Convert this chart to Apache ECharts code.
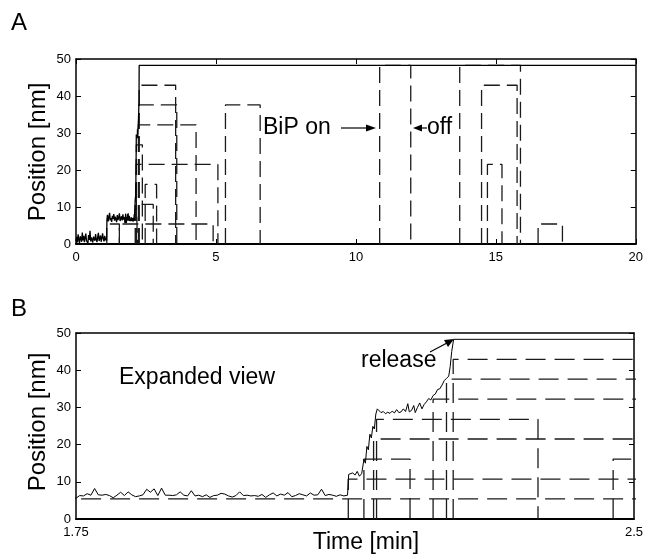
<!DOCTYPE html>
<html>
<head>
<meta charset="utf-8">
<script src="https://cdn.jsdelivr.net/npm/echarts@6/dist/echarts.min.js"></script>
<style>
html,body{margin:0;padding:0;background:#fff;}
#c{width:646px;height:554px;}
</style>
</head>
<body>
<div id="c"></div>
<script>
// ---- data (time in min, position in nm) ----
const traceSlow = [
[0.000,0.8],[0.025,1.9],[0.050,0.4],[0.075,2.6],[0.100,1.2],[0.125,0.3],[0.150,2.1],[0.175,1.5],[0.200,0.6],[0.225,3.1],
[0.250,1.0],[0.275,2.2],[0.300,0.5],[0.325,1.7],[0.350,2.8],[0.375,0.9],[0.400,1.4],[0.425,0.2],[0.450,2.4],[0.475,1.1],
[0.500,3.6],[0.525,0.7],[0.550,1.8],[0.575,1.3],[0.600,0.4],[0.625,2.0],[0.650,1.6],[0.675,0.9],[0.700,2.7],[0.725,1.2],
[0.750,0.5],[0.775,1.9],[0.800,3.0],[0.825,0.8],[0.850,1.5],[0.875,2.3],[0.900,0.6],[0.925,1.1],[0.950,2.9],[0.975,1.4],
[1.000,0.7],[1.025,2.2],[1.050,1.0],[1.075,1.7],[1.095,0.9],
[1.105,6.6],[1.125,7.9],[1.150,6.1],[1.175,7.2],[1.200,8.4],[1.225,6.4],[1.250,7.0],[1.275,6.0],[1.300,7.6],[1.325,6.8],
[1.350,8.1],[1.375,6.3],[1.400,7.4],[1.425,6.7],[1.450,5.9],[1.475,7.8],[1.500,6.5],[1.525,7.1],[1.550,8.3],[1.575,6.2],
[1.600,6.9],[1.625,7.5],[1.650,6.4],[1.675,8.0],[1.700,6.6],[1.725,7.3]
];
const traceFast = [
[1.750,5.6],[1.755,6.3],[1.760,6.2],[1.765,6.8],[1.770,6.4],[1.775,8.2],[1.780,6.5],[1.785,6.4],[1.790,6.6],[1.795,6.3],
[1.800,5.7],[1.805,6.4],[1.810,7.2],[1.815,6.3],[1.820,7.3],[1.825,6.5],[1.830,6.0],[1.835,6.2],[1.840,6.5],[1.845,8.0],
[1.850,7.2],[1.855,8.1],[1.860,6.3],[1.865,8.3],[1.870,6.4],[1.875,6.4],[1.880,6.3],[1.885,6.5],[1.890,7.3],[1.895,6.4],
[1.900,6.2],[1.905,7.6],[1.910,6.2],[1.915,6.4],[1.920,6.0],[1.925,6.5],[1.930,5.8],[1.935,6.3],[1.940,6.4],[1.945,6.9],
[1.950,6.7],[1.955,6.2],[1.960,5.9],[1.965,6.3],[1.970,7.3],[1.975,6.3],[1.980,6.4],[1.985,6.2],[1.990,6.3],[1.995,6.1],
[2.000,6.6],[2.005,5.8],[2.010,6.5],[2.015,7.0],[2.020,6.2],[2.025,6.7],[2.030,6.4],[2.035,7.1],[2.040,6.0],[2.045,6.3],
[2.050,6.8],[2.055,6.5],[2.060,6.2],[2.065,7.0],[2.070,6.4],[2.075,6.5],[2.080,8.0],[2.085,6.3],[2.090,6.6],[2.095,6.4],
[2.100,6.1],[2.105,6.5],[2.110,6.2],[2.115,6.4],
[2.1165,12.0],[2.119,11.6],[2.122,12.4],[2.125,11.8],[2.128,12.8],[2.131,11.5],[2.134,12.2],[2.137,16.0],[2.139,15.0],
[2.141,19.5],[2.143,18.6],[2.145,22.8],[2.147,21.8],[2.149,24.9],[2.151,24.2],[2.153,28.2],[2.155,29.6],[2.157,29.1],
[2.160,28.6],[2.163,28.9],[2.166,28.3],[2.169,28.7],[2.172,28.4],[2.175,29.0],[2.178,28.5],[2.181,29.4],[2.184,28.6],
[2.187,28.8],[2.190,29.6],[2.193,28.9],[2.196,31.0],[2.198,28.8],[2.201,29.2],[2.204,30.5],[2.206,28.6],[2.209,30.0],
[2.212,31.2],[2.215,29.6],[2.218,30.8],[2.221,31.5],[2.224,32.4],[2.227,32.0],[2.230,33.2],[2.233,33.6],[2.236,34.8],
[2.239,35.0],[2.242,36.0],[2.245,37.2],[2.248,37.8],[2.251,38.4],[2.253,41.0],[2.255,45.0],[2.2576,48.3],
[20.0,48.3]
];
// BiP binding events: [time on, time off, position level]
const bindings = [
[1.10, 1.55, 5.4],
[1.55, 4.90, 5.4],
[2.116, 2.76, 10.7],
[2.137, 2.199, 16.1],
[2.150, 5.07, 21.5],
[2.154, 2.371, 26.8],
[2.230, 4.29, 32.2],
[2.248, 3.60, 37.6],
[2.257, 3.56, 42.9],
[2.472, 2.88, 16.1],
[5.34, 6.58, 37.6],
[10.85, 11.96, 48.3],
[13.71, 15.88, 48.3],
[14.49, 15.76, 42.9],
[14.70, 15.22, 21.5],
[16.51, 17.38, 5.4]
];
const xTicksA = [0, 5, 10, 15, 20];
const xLabelsB = [1.75, 2.5];
const yTicks = [0, 10, 20, 30, 40, 50];

// ---- chart ----
const chart = echarts.init(document.getElementById('c'), null, {renderer: 'canvas'});
const FONT = '"Liberation Sans", Arial, Helvetica, sans-serif';
const trace = traceSlow.concat(traceFast);

function xAx(grid, pos, min, max, interval, labels, ticks, lw) {
  return {
    type: 'value', gridIndex: grid, position: pos, min: min, max: max, interval: interval,
    axisLine: {show: true, onZero: false, lineStyle: {color: '#000', width: lw}},
    axisTick: {show: ticks, inside: true, length: 5, lineStyle: {color: '#000', width: 1}},
    axisLabel: {show: labels !== null, color: '#000', fontSize: 13, fontFamily: FONT, margin: 7,
      formatter: labels ? (v => labels.some(l => Math.abs(l - v) < 1e-9) ? String(v) : '') : undefined},
    splitLine: {show: false}
  };
}
function yAx(grid, pos, labels) {
  return {
    type: 'value', gridIndex: grid, position: pos, min: yTicks[0], max: yTicks[yTicks.length - 1], interval: 10,
    axisLine: {show: true, onZero: false, lineStyle: {color: '#000', width: 1.5}},
    axisTick: {show: true, inside: true, length: 5, lineStyle: {color: '#000', width: 1}},
    axisLabel: {show: labels, color: '#000', fontSize: 13, fontFamily: FONT, margin: 5},
    splitLine: {show: false}
  };
}

const series = [];
[[0, [16, 7], 1.3], [1, [20, 9], 1]].forEach(([g, dash, tw]) => {
  bindings.forEach(b => {
    series.push({
      type: 'line', xAxisIndex: g * 2, yAxisIndex: g * 2, showSymbol: false, symbol: 'none',
      data: [[b[0], 0], [b[0], b[2]], [b[1], b[2]], [b[1], 0]],
      lineStyle: {color: '#1a1a1a', width: 1.3, type: dash}, z: 2, silent: true, animation: false
    });
  });
  series.push({
    type: 'line', xAxisIndex: g * 2, yAxisIndex: g * 2, showSymbol: false, symbol: 'none',
    data: trace, lineStyle: {color: '#000', width: tw}, z: 3, silent: true, animation: false
  });
});

function txt(x, y, s, size, align, rot) {
  return {type: 'text', x: x, y: y, rotation: rot || 0, z: 10, silent: true,
    style: {text: s, fill: '#000', font: size + 'px ' + FONT,
      textAlign: align || 'left', textVerticalAlign: 'middle', align: align || 'left', verticalAlign: 'middle'}};
}

const option = {
  backgroundColor: '#fff',
  animation: false,
  grid: [
    {left: 76, top: 59, width: 560, height: 185, show: false},
    {left: 76, top: 333, width: 560, height: 186, show: false}
  ],
  xAxis: [
    xAx(0, 'bottom', xTicksA[0], xTicksA[xTicksA.length - 1], 5, xTicksA, true, 2),
    xAx(0, 'top', xTicksA[0], xTicksA[xTicksA.length - 1], 5, null, true, 1.5),
    xAx(1, 'bottom', xLabelsB[0], xLabelsB[1], 0.25, xLabelsB, false, 2),
    xAx(1, 'top', xLabelsB[0], xLabelsB[1], 0.25, null, false, 1.5)
  ],
  yAxis: [
    yAx(0, 'left', true), yAx(0, 'right', false),
    yAx(1, 'left', true), yAx(1, 'right', false)
  ],
  series: series,
  graphic: [
    txt(11, 23, 'A', 24),
    txt(11, 309, 'B', 24),
    txt(38, 152, 'Position [nm]', 24, 'center', Math.PI / 2),
    txt(38, 422, 'Position [nm]', 24, 'center', Math.PI / 2),
    txt(366, 543, 'Time [min]', 23, 'center'),
    txt(263, 128, 'BiP on', 23),
    {type: 'line', shape: {x1: 341, y1: 128, x2: 368, y2: 128}, style: {stroke: '#000', lineWidth: 1.2}, z: 10},
    {type: 'polygon', shape: {points: [[376, 128], [366, 124.5], [366, 131.5]]}, style: {fill: '#000'}, z: 10},
    txt(427, 128, 'off', 23),
    {type: 'line', shape: {x1: 420, y1: 128, x2: 427, y2: 128}, style: {stroke: '#000', lineWidth: 1.2}, z: 10},
    {type: 'polygon', shape: {points: [[413, 128], [422, 124.5], [422, 131.5]]}, style: {fill: '#000'}, z: 10},
    txt(119, 378, 'Expanded view', 23),
    txt(361, 361, 'release', 23),
    {type: 'line', shape: {x1: 430, y1: 352, x2: 447, y2: 343}, style: {stroke: '#000', lineWidth: 1.2}, z: 10},
    {type: 'polygon', shape: {points: [[454, 339], [444, 340], [448, 347]]}, style: {fill: '#000'}, z: 10}
  ]
};
chart.setOption(option);
</script>
</body>
</html>
